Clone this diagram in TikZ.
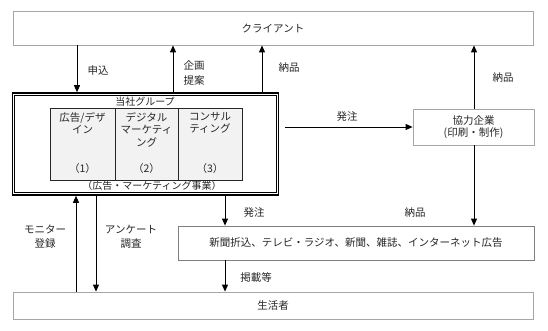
\documentclass[tikz,border=0pt]{standalone}
\usepackage{fontspec}
\setmainfont{Noto Sans CJK JP}
\usetikzlibrary{arrows.meta,calc}
\definecolor{lightframe}{HTML}{A6A6A6}
\definecolor{midframe}{HTML}{7F7F7F}
\definecolor{subfill}{HTML}{F2F2F2}
\definecolor{ink}{HTML}{262626}
\begin{document}
\begin{tikzpicture}[x=1pt,y=-1pt,
  every node/.style={font=\fontsize{10.5}{14}\selectfont, inner sep=0pt, text=ink},
  gbox/.style={draw=lightframe, line width=0.8pt, fill=white},
  dbox/.style={draw=midframe, line width=0.8pt, fill=white},
  grpbox/.style={draw=black, line width=1.6pt},
  subbox/.style={draw=black!85, line width=0.9pt, fill=subfill},
  lbl/.style={align=center},
  arr/.style={draw=black, line width=0.9pt, -{Triangle[length=7pt,width=6pt]}}
]
\fill[white] (0,0) rectangle (548,331);
\useasboundingbox (0,0) rectangle (548,331);

% main boxes
\node[gbox, minimum width=520pt, minimum height=34pt] (client) at (273,28) {クライアント};
\node[grpbox, minimum width=266pt, minimum height=102pt] (grp) at (145.5,144) {};
\draw[line width=0.7pt] ([shift={(3,3)}]grp.north west) rectangle ([shift={(-3,-3)}]grp.south east);
\node[font=\fontsize{10}{12}\selectfont] (grptitle) at (145,101.5) {当社グループ};
\node[font=\fontsize{10}{12}\selectfont] (grpsub) at (152,185.5) {（広告・マーケティング事業）};

\node[subbox, minimum width=65pt, minimum height=72pt] (s1) at (82.5,144) {};
\node[subbox, minimum width=63pt, minimum height=72pt] (s2) at (146.5,144) {};
\node[subbox, minimum width=64pt, minimum height=72pt] (s3) at (210,144) {};
\node[lbl, anchor=north, font=\fontsize{10.5}{12.5}\selectfont] (t1) at (s1.center |- 0,112) {広告/デザ\\イン};
\node[lbl, anchor=north, font=\fontsize{10.5}{12.5}\selectfont] (t2) at (s2.center |- 0,112) {デジタル\\マーケティ\\ング};
\node[lbl, anchor=north, font=\fontsize{10.5}{12.5}\selectfont] (t3) at (s3.center |- 0,112) {コンサル\\ティング};
\node (n1) at (82.5,169) {（1）};
\node (n2) at (146.5,169) {（2）};
\node (n3) at (210,169) {（3）};

\node[gbox, lbl, minimum width=121pt, minimum height=36pt, font=\fontsize{10.5}{12}\selectfont] (coop) at (473.5,127) {協力企業\\(印刷・制作)};
\node[dbox, minimum width=356pt, minimum height=34pt] (media) at (356,243) {新聞折込、テレビ・ラジオ、新聞、雑誌、インターネット広告};
\node[gbox, minimum width=520pt, minimum height=27pt] (cons) at (273,305.5) {生活者};

% x positions of connectors
\coordinate (cA) at (77,0);
\coordinate (cB) at (173,0);
\coordinate (cC) at (262,0);
\coordinate (cD) at (474,0);
\coordinate (cE) at (76,0);
\coordinate (cF) at (96,0);
\coordinate (cG) at (225,0);
\coordinate (orderstart) at ($(grp.east |- coop.west)+(6,0)$);

% connectors
\draw[arr] (client.south -| cA) -- (grp.north -| cA);
\draw[arr] (grp.north -| cB) -- (client.south -| cB);
\draw[arr] (grp.north -| cC) -- (client.south -| cC);
\draw[arr] (coop.north -| cD) -- (client.south -| cD);
\draw[arr] (orderstart) -- (coop.west);
\draw[arr] (coop.south -| cD) -- (media.north -| cD);
\draw[arr] (grp.south -| cG) -- (media.north -| cG);
\draw[arr] (media.south -| cG) -- (cons.north -| cG);
\draw[arr] (cons.north -| cE) -- (grp.south -| cE);
\draw[arr] (grp.south -| cF) -- (cons.north -| cF);

% labels
\node (l1) at (98,71) {申込};
\node[lbl, font=\fontsize{10.5}{15}\selectfont] (l2) at (194,72.5) {企画\\提案};
\node (l3) at (289,68) {納品};
\node (l4) at (503,78) {納品};
\node (l5) at (347,117) {発注};
\node (l6) at (415,213) {納品};
\node (l7) at (254,213) {発注};
\node (l8) at (256,277) {掲載等};
\node[lbl] (l9) at (45,237) {モニター\\登録};
\node[lbl] (l10) at (131,237) {アンケート\\調査};
\end{tikzpicture}
\end{document}
